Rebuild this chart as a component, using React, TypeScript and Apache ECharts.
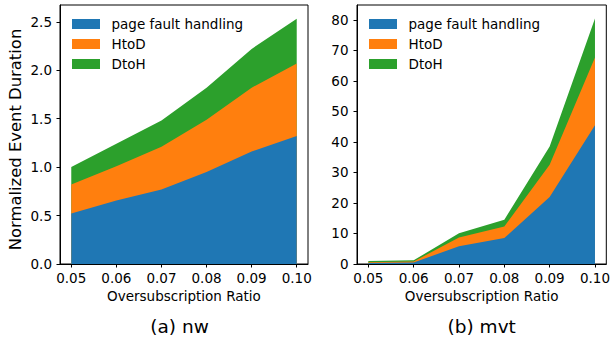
import React, { useEffect, useRef } from "react";
import * as echarts from "echarts";

const ratios = [0.05, 0.06, 0.07, 0.08, 0.09, 0.1];
const seriesNames = ["page fault handling", "HtoD", "DtoH"];
const colors = ["#1f77b4", "#ff7f0e", "#2ca02c"];

// (a) nw
const nwPageFault = [0.52, 0.655, 0.77, 0.95, 1.16, 1.32];
const nwHtoD = [0.3, 0.355, 0.44, 0.54, 0.66, 0.75];
const nwDtoH = [0.18, 0.23, 0.27, 0.33, 0.4, 0.46];

// (b) mvt
const mvtPageFault = [0.3, 0.5, 5.8, 8.5, 22.0, 45.5];
const mvtHtoD = [0.3, 0.3, 2.9, 3.8, 10.5, 22.2];
const mvtDtoH = [0.4, 0.4, 1.4, 2.2, 6.0, 12.8];

const xTicks = [0.05, 0.06, 0.07, 0.08, 0.09, 0.1];
const nwYTicks = [0, 0.5, 1.0, 1.5, 2.0, 2.5];
const mvtYTicks = [0, 10, 20, 30, 40, 50, 60, 70, 80];

const FONT = "DejaVu Sans";

export default function App() {
  const ref = useRef<HTMLDivElement>(null);
  useEffect(() => {
    if (!ref.current) return;
    const chart = echarts.init(ref.current, undefined, { renderer: "svg" });
    const tickStyle = { fontFamily: FONT, fontSize: 13.5, color: "#000" };
    const mkX = (gridIndex: number) => ({
      type: "value",
      gridIndex,
      min: 0.0475,
      max: 0.1025,
      name: "Oversubscription Ratio",
      nameLocation: "middle",
      nameGap: 24,
      nameTextStyle: { fontFamily: FONT, fontSize: 13.5, color: "#000" },
      splitLine: { show: false },
      axisLine: { onZero: false, lineStyle: { color: "#000", width: 1 } },
      axisTick: { show: true, length: 3.5, lineStyle: { color: "#000" }, customValues: xTicks },
      axisLabel: {
        ...tickStyle,
        margin: 6.5,
        customValues: xTicks,
        formatter: (v: number) => v.toFixed(2),
      },
    });
    const mkY = (gridIndex: number, max: number, ticks: number[], dec: number, margin: number) => ({
      type: "value",
      gridIndex,
      min: 0,
      max,
      splitLine: { show: false },
      axisLine: { show: true, lineStyle: { color: "#000", width: 1 } },
      axisTick: { show: true, length: 3.5, lineStyle: { color: "#000" }, customValues: ticks },
      axisLabel: {
        ...tickStyle,
        margin,
        customValues: ticks,
        formatter: (v: number) => v.toFixed(dec),
      },
    });
    // cumulative stacking computed from the component arrays; draw top layer first
    const mkSeries = (idx: number, arrays: number[][]) => {
      const cum: number[][] = [];
      arrays.forEach((arr, i) => {
        cum.push(arr.map((v, j) => v + (i > 0 ? cum[i - 1][j] : 0)));
      });
      return [2, 1, 0].map((i) => ({
        type: "line",
        name: seriesNames[i],
        xAxisIndex: idx,
        yAxisIndex: idx,
        z: 2 + (2 - i),
        symbol: "none",
        lineStyle: { width: 0 },
        areaStyle: { color: colors[i], opacity: 1, origin: "start" },
        itemStyle: { color: colors[i] },
        data: ratios.map((x, j) => [x, cum[i][j]]),
      }));
    };
    const mkLegend = (left: number) => ({
      left,
      top: 14,
      padding: 0,
      orient: "vertical",
      itemWidth: 28,
      itemHeight: 10,
      itemGap: 0,
      selectedMode: false,
      icon: "rect",
      data: seriesNames.map((n, i) => ({ name: n, itemStyle: { color: colors[i] } })),
      textStyle: {
        fontFamily: FONT,
        fontSize: 13.5,
        color: "#000",
        lineHeight: 20,
        padding: [0, 0, 0, 6.5],
      },
    });
    chart.setOption({
      animation: false,
      backgroundColor: "#fff",
      grid: [
        { left: 60, top: 5, width: 248, height: 259, show: true, borderColor: "#000", borderWidth: 1, backgroundColor: "transparent" },
        { left: 357, top: 5, width: 252, height: 259, show: true, borderColor: "#000", borderWidth: 1, backgroundColor: "transparent" },
      ],
      legend: [mkLegend(72), mkLegend(369)],
      xAxis: [mkX(0), mkX(1)],
      yAxis: [mkY(0, 2.673, nwYTicks, 1, 8), mkY(1, 84.9, mvtYTicks, 0, 8.5)],
      series: [
        ...mkSeries(0, [nwPageFault, nwHtoD, nwDtoH]),
        ...mkSeries(1, [mvtPageFault, mvtHtoD, mvtDtoH]),
      ],
      graphic: [
        {
          type: "text",
          x: 15.7,
          y: 139.5,
          rotation: Math.PI / 2,
          style: { text: "Normalized Event Duration", fontFamily: FONT, fontSize: 16.4, fill: "#000", align: "center", verticalAlign: "middle" },
        },
        {
          type: "text",
          x: 179.5,
          y: 326.7,
          style: { text: "(a) nw", fontFamily: FONT, fontSize: 18.5, fill: "#000", align: "center", verticalAlign: "middle" },
        },
        {
          type: "text",
          x: 481.7,
          y: 326.7,
          style: { text: "(b) mvt", fontFamily: FONT, fontSize: 18.5, fill: "#000", align: "center", verticalAlign: "middle" },
        },
      ],
    });
    return () => chart.dispose();
  }, []);
  return <div ref={ref} style={{ width: 613, height: 341, position: "absolute", left: 0, top: 0 }} />;
}
